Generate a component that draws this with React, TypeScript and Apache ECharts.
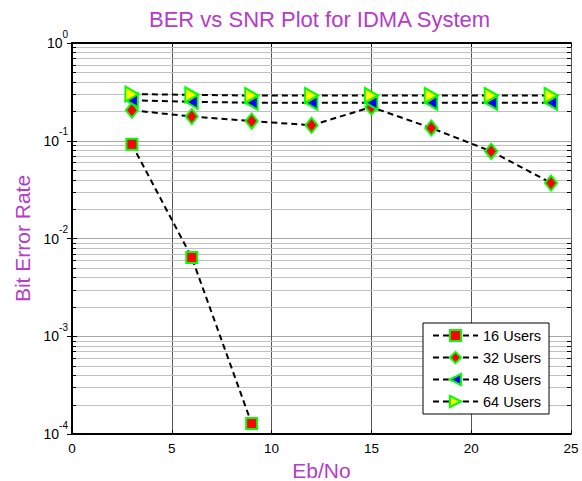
import React, { useEffect, useRef } from "react";
import * as echarts from "echarts";

// ---- data ----
const SNR_16 = [3, 6, 9];
const BER_16 = [0.092, 0.0064, 0.000128];
const SNR_ALL = [3, 6, 9, 12, 15, 18, 21, 24];
const BER_32 = [0.205, 0.177, 0.159, 0.144, 0.221, 0.135, 0.078, 0.037];
const BER_48 = [0.26, 0.25, 0.245, 0.245, 0.245, 0.245, 0.245, 0.245];
const BER_64 = [0.3, 0.295, 0.29, 0.29, 0.29, 0.29, 0.29, 0.29];
const SERIES_NAMES = ["16 Users", "32 Users", "48 Users", "64 Users"];
const DECADES = [1e-4, 1e-3, 1e-2, 1e-1];
const MINOR_MULTS = [2, 3, 4, 5, 6, 7, 8, 9];
const X_MIN = 0;
const X_MAX = 25;
const X_INTERVAL = 5;
const Y_MIN = 1e-4;
const Y_MAX = 1;

const FONT = "'Liberation Sans', Arial, sans-serif";
const PURPLE = "#b43cc8";
const LEFT_TRI = "path://M0,5 L10,0 L10,10 Z";
const RIGHT_TRI = "path://M10,5 L0,0 L0,10 Z";

const MINOR_VALUES: number[] = [];
DECADES.forEach((d) => MINOR_MULTS.forEach((m) => MINOR_VALUES.push(d * m)));

export default function App() {
  const ref = useRef<HTMLDivElement>(null);
  useEffect(() => {
    if (!ref.current) return;
    const chart = echarts.init(ref.current, null, { renderer: "svg" });
    const dashed = { color: "#000", width: 2, type: [6, 4] as any };
    const mk = (color: string) => ({ color, borderColor: "#00ff00", borderWidth: 2 });
    chart.setOption({
      animation: false,
      backgroundColor: "#fff",
      title: {
        text: "BER vs SNR Plot for IDMA System",
        left: 149,
        top: 8,
        padding: 0,
        textStyle: { color: PURPLE, fontFamily: FONT, fontSize: 22, fontWeight: "normal" },
      },
      legend: {
        orient: "vertical",
        left: 423,
        top: 323,
        data: SERIES_NAMES,
        itemWidth: 45,
        itemHeight: 14,
        itemGap: 7,
        padding: [5, 8, 5, 9],
        backgroundColor: "#fff",
        borderColor: "#000",
        borderWidth: 1,
        borderRadius: 0,
        textStyle: { fontFamily: FONT, fontSize: 14.5, color: "#000" },
      },
      grid: { left: 72, right: 11, top: 43, bottom: 47, containLabel: false, outerBoundsMode: "none" },
      xAxis: [
        {
          type: "value",
          min: X_MIN,
          max: X_MAX,
          interval: X_INTERVAL,
          name: "Eb/No",
          nameLocation: "middle",
          nameGap: 26,
          nameTextStyle: { color: PURPLE, fontFamily: FONT, fontSize: 21, lineHeight: 18 },
          axisLine: { show: true, lineStyle: { color: "#000", width: 2 } },
          axisTick: { show: true, inside: true, length: 4, lineStyle: { color: "#000" } },
          axisLabel: { color: "#000", fontFamily: FONT, fontSize: 13.5, margin: 7 },
          splitLine: { show: true, lineStyle: { color: "#555", width: 1 } },
        },
        {
          type: "value",
          position: "top",
          min: X_MIN,
          max: X_MAX,
          interval: X_INTERVAL,
          axisLine: { show: true, lineStyle: { color: "#000", width: 2 } },
          axisTick: { show: true, inside: true, length: 4, lineStyle: { color: "#000" } },
          axisLabel: { show: false },
          splitLine: { show: false },
        },
      ],
      yAxis: [
        {
          type: "log",
          logBase: 10,
          min: Y_MIN,
          max: Y_MAX,
          name: "Bit Error Rate",
          nameLocation: "middle",
          nameGap: 39,
          nameTextStyle: { color: PURPLE, fontFamily: FONT, fontSize: 21 },
          axisLine: { show: true, lineStyle: { color: "#000", width: 2 } },
          axisTick: { show: true, inside: true, length: 5, lineStyle: { color: "#000" } },
          axisLabel: {
            margin: 4,
            formatter: (v: number) => "{b|10}{s|" + Math.round(Math.log10(v)) + "}",
            rich: {
              b: { fontFamily: FONT, fontSize: 14, color: "#000", padding: [8, 0, 8, 0] },
              s: { fontFamily: FONT, fontSize: 10, color: "#000", verticalAlign: "top", padding: [1, 0, 0, 0] },
            },
          },
          splitLine: { show: true, lineStyle: { color: "#a8a8a8", width: 1 } },
        },
        {
          type: "log",
          logBase: 10,
          min: Y_MIN,
          max: Y_MAX,
          position: "right",
          axisLine: { show: true, lineStyle: { color: "#000", width: 2 } },
          axisTick: { show: true, inside: true, length: 5, lineStyle: { color: "#000" } },
          axisLabel: { show: false },
          splitLine: { show: false },
        },
      ],
      series: [
        {
          type: "custom",
          name: "minor-grid",
          coordinateSystem: "cartesian2d",
          xAxisIndex: 0,
          yAxisIndex: 0,
          silent: true,
          clip: false,
          z: 1,
          encode: { x: 0, y: 1 },
          data: MINOR_VALUES.map((v) => [X_MIN, v]),
          renderItem: (_p: any, api: any) => {
            const v = api.value(1);
            const a = api.coord([X_MIN, v]);
            const b = api.coord([X_MAX, v]);
            const y = Math.round(a[1]) + 0.5;
            return {
              type: "group",
              children: [
                { type: "line", shape: { x1: a[0], y1: y, x2: b[0], y2: y }, style: { stroke: "#c0c0c0", lineWidth: 1 } },
                { type: "line", shape: { x1: a[0], y1: y, x2: a[0] + 4, y2: y }, style: { stroke: "#000", lineWidth: 1 } },
                { type: "line", shape: { x1: b[0] - 4, y1: y, x2: b[0], y2: y }, style: { stroke: "#000", lineWidth: 1 } },
              ],
            };
          },
        },
        {
          type: "line",
          name: SERIES_NAMES[0],
          data: SNR_16.map((x, i) => [x, BER_16[i]]),
          symbol: "rect",
          symbolSize: 11,
          lineStyle: dashed,
          itemStyle: mk("#ff0000"),
          z: 3,
        },
        {
          type: "line",
          name: SERIES_NAMES[1],
          data: SNR_ALL.map((x, i) => [x, BER_32[i]]),
          symbol: "diamond",
          symbolSize: [12, 15],
          lineStyle: dashed,
          itemStyle: mk("#ff0000"),
          z: 3,
        },
        {
          type: "line",
          name: SERIES_NAMES[2],
          data: SNR_ALL.map((x, i) => [x, BER_48[i]]),
          symbol: LEFT_TRI,
          symbolSize: [12, 14],
          lineStyle: dashed,
          itemStyle: mk("#0000ff"),
          z: 3,
        },
        {
          type: "line",
          name: SERIES_NAMES[3],
          data: SNR_ALL.map((x, i) => [x, BER_64[i]]),
          symbol: RIGHT_TRI,
          symbolSize: [13, 15],
          lineStyle: dashed,
          itemStyle: mk("#ffff00"),
          z: 3,
        },
      ],
    });
    return () => chart.dispose();
  }, []);
  return <div ref={ref} style={{ position: "fixed", left: 0, top: 0, width: 582, height: 481 }} />;
}
